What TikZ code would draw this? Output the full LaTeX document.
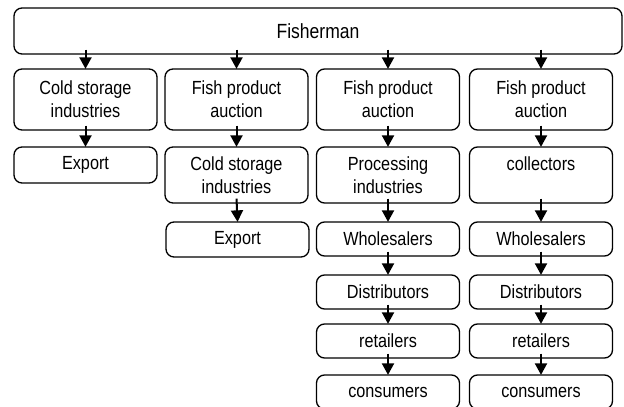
\documentclass[tikz,border=0pt]{standalone}
\usepackage{fontspec}
\setmainfont{Liberation Sans}[FakeStretch=0.855]
\usetikzlibrary{arrows.meta}
\begin{document}
\begin{tikzpicture}[x=1pt,y=-1pt,
  box/.style={draw=black, line width=1.3pt, rounded corners=8pt, align=center,
    inner sep=0pt, font=\fontsize{19}{23}\selectfont},
  cell/.style={box, minimum width=143pt},
  arr/.style={line width=2pt, -{Triangle[length=11.5pt,width=12pt]}, shorten >=-0.5pt}
]
\clip (0,0) rectangle (624,407);

% top node
\node[box, minimum width=608pt, minimum height=46pt, font=\fontsize{20.5}{23}\selectfont]
  (fish) at (318,31) {Fisherman};

% column 1
\node[cell, minimum height=61pt] (a1) at (85.5,99.5) {Cold storage\\industries};
\node[cell, minimum height=36pt] (a2) at (85.5,165) {Export};

% column 2
\node[cell, minimum height=61pt] (b1) at (236.5,99.5) {Fish product\\auction};
\node[cell, minimum height=56pt] (b2) at (236.5,175) {Cold storage\\industries};
\node[cell, minimum height=35pt] (b3) at (237.5,239.5) {Export};

% column 3
\node[cell, minimum height=61pt] (c1) at (388,99.5) {Fish product\\auction};
\node[cell, minimum height=56pt] (c2) at (388,175) {Processing\\industries};
\node[cell, minimum height=34pt] (c3) at (388,239) {Wholesalers};
\node[cell, minimum height=34pt] (c4) at (388,292) {Distributors};
\node[cell, minimum height=34pt] (c5) at (388,341) {retailers};
\node[cell, minimum height=34pt] (c6) at (388,392) {consumers};

% column 4
\node[cell, minimum height=61pt] (d1) at (541,99.5) {Fish product\\auction};
\node[cell, minimum height=56pt] (d2) at (541,175) {collectors\\\mbox{}};
\node[cell, minimum height=34pt] (d3) at (541,239) {Wholesalers};
\node[cell, minimum height=34pt] (d4) at (541,292) {Distributors};
\node[cell, minimum height=34pt] (d5) at (541,341) {retailers};
\node[cell, minimum height=34pt] (d6) at (541,392) {consumers};

% arrows from the top node
\foreach \t in {a1,b1,c1,d1}
  \draw[arr] ([yshift=5pt]fish.south -| \t.north) -- (\t.north);

% arrows down each column
\foreach \s/\t in {a1/a2, b1/b2, b2/b3, c1/c2, c2/c3, c3/c4, c4/c5, c5/c6,
                   d1/d2, d2/d3, d3/d4, d4/d5, d5/d6}
  \draw[arr] ([yshift=5pt]\s.south) -- (\t.north);
\end{tikzpicture}
\end{document}
